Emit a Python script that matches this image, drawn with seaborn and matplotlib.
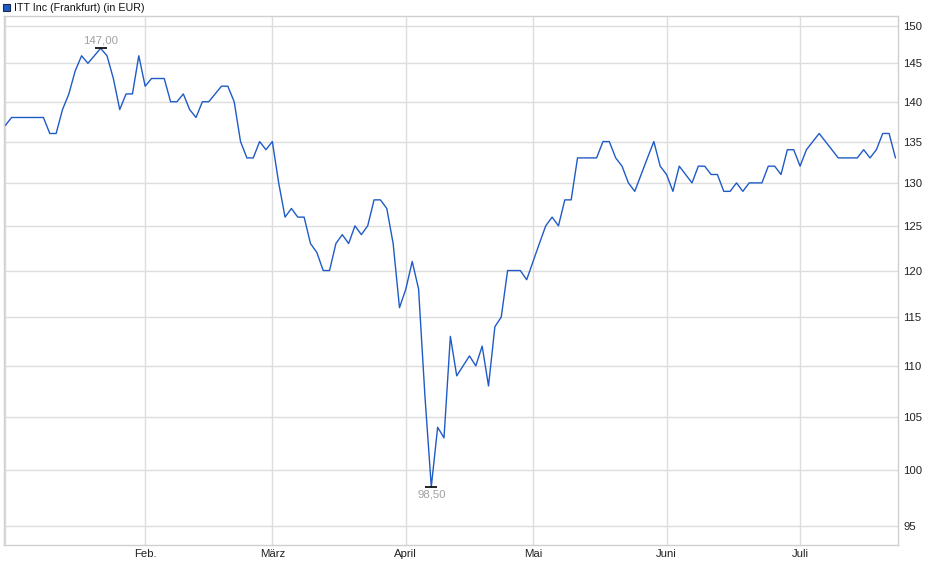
import pandas as pd
import numpy as np
import seaborn as sns
import matplotlib.pyplot as plt
from matplotlib.patches import Rectangle

# Frankfurt trading days Jan 2 - Jul 22 2025 (Good Friday, Easter Monday, May 1 closed)
holidays = ["2025-04-18", "2025-04-21", "2025-05-01"]
dates = pd.bdate_range("2025-01-02", "2025-07-22")
dates = dates[~dates.isin(pd.to_datetime(holidays))]

# closing prices in EUR
prices = [
    137, 138, 138, 138, 138, 138, 138, 136, 136, 139,
    141, 144, 146, 145, 146, 147, 146, 143, 139, 141,
    141, 146, 142, 143, 143, 143, 140, 140, 141, 139,
    138, 140, 140, 141, 142, 142, 140, 135, 133, 133,
    135, 134, 135, 130, 126, 127, 126, 126, 123, 122,
    120, 120, 123, 124, 123, 125, 124, 125, 128, 128,
    127, 123, 116, 118, 121, 118, 107, 98.5, 104, 103,
    113, 109, 110, 111, 110, 112, 108, 114, 115, 120,
    120, 120, 119, 121, 123, 125, 126, 125, 128, 128,
    133, 133, 133, 133, 135, 135, 133, 132, 130, 129,
    131, 133, 135, 132, 131, 129, 132, 131, 130, 132,
    132, 131, 131, 129, 129, 130, 129, 130, 130, 130,
    132, 132, 131, 134, 134, 132, 134, 135, 136, 135,
    134, 133, 133, 133, 133, 134, 133, 134, 136, 136,
    133,
]

month_names = {1: "", 2: "Feb.", 3: "März", 4: "April", 5: "Mai", 6: "Juni", 7: "Juli"}
y_ticks = [95, 100, 105, 110, 115, 120, 125, 130, 135, 140, 145, 150]

df = pd.DataFrame({"date": dates, "price": prices})
df["idx"] = np.arange(len(df))

#first trading day of each month gets a gridline
month_start = df.groupby(df["date"].dt.month)["idx"].min()

sns.set_theme(style="white")
plt.rcParams["font.family"] = ["Liberation Sans", "DejaVu Sans"]

fig = plt.figure(figsize=(9.4, 5.79), dpi=100)
ax = fig.add_axes([4 / 940, 34 / 579, 894 / 940, 529 / 579])

sns.lineplot(data=df, x="idx", y="price", ax=ax, color="#1f5bc6", linewidth=1.0)

ax.set_yscale("log")
ax.set_ylim(93.4, 151.4)
ax.set_xlim(-0.2, 140.4)

ax.set_yticks(y_ticks)
ax.set_yticklabels([str(v) for v in y_ticks])
ax.yaxis.set_minor_locator(plt.NullLocator())
ax.yaxis.tick_right()
ax.set_xticks(month_start.values)
ax.set_xticklabels([month_names[m] for m in month_start.index])

ax.grid(True, color="#dddddd", linewidth=1.0)
ax.tick_params(axis="both", length=0, labelsize=8.2, colors="#222222")
ax.tick_params(axis="y", pad=4)
ax.tick_params(axis="x", pad=3)
for s in ax.spines.values():
    s.set_color("#d0d0d0")
    s.set_linewidth(1.0)
ax.set_xlabel("")
ax.set_ylabel("")

#high and low markers
hi = df.loc[df["price"].idxmax()]
lo = df.loc[df["price"].idxmin()]
ax.plot(hi["idx"], hi["price"], marker="_", color="black", markersize=8, markeredgewidth=1.2)
ax.plot(lo["idx"], lo["price"], marker="_", color="black", markersize=8, markeredgewidth=1.2)
ax.annotate(f"{hi['price']:.2f}".replace(".", ","), (hi["idx"], hi["price"]),
            xytext=(0, 2), textcoords="offset points", ha="center", va="bottom",
            fontsize=8.2, color="#a0a0a0")
ax.annotate(f"{lo['price']:.2f}".replace(".", ","), (lo["idx"], lo["price"]),
            xytext=(0, -2), textcoords="offset points", ha="center", va="top",
            fontsize=8.2, color="#a0a0a0")

#legend box in the top left corner
fig.patches.append(Rectangle((3 / 940, 1 - 11 / 579), 7 / 940, 7 / 579,
                             transform=fig.transFigure, facecolor="#1f5bc6",
                             edgecolor="#1a2a50", linewidth=0.8))
fig.text(14 / 940, 1 - 8 / 579, "ITT Inc (Frankfurt) (in EUR)", fontsize=7.7,
         color="#111111", va="center", ha="left")

fig.savefig("out.png", dpi=100)
